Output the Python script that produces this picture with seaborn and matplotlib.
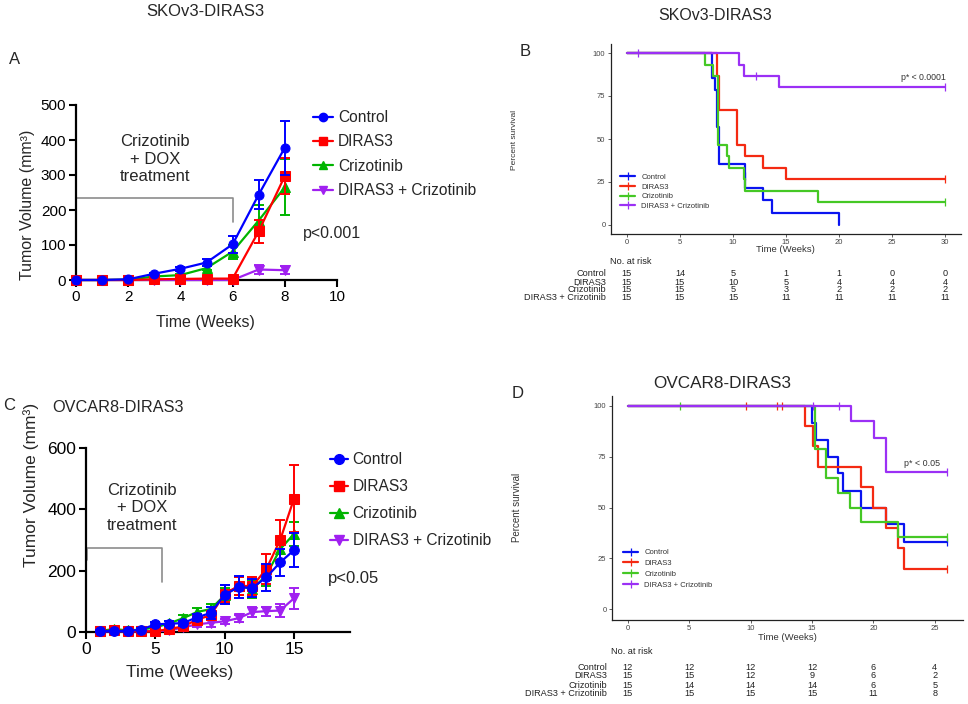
import numpy as np
import pandas as pd
import matplotlib
matplotlib.use("Agg")
import matplotlib.pyplot as plt
import matplotlib.transforms as mtransforms
from matplotlib.lines import Line2D
import seaborn as sns

sns.set_theme(style="white")
plt.rcParams['font.family'] = ['Liberation Sans', 'DejaVu Sans']

# ---- data ----
groups = ["Control", "DIRAS3", "Crizotinib", "DIRAS3 + Crizotinib"]

# panel A: SKOv3 tumor volume (mean, SEM)
weeks_a = [0, 1, 2, 3, 4, 5, 6, 7, 8]
vol_a = {
    "Control":             [0, 0, 2, 18, 32, 50, 102, 244, 378],
    "DIRAS3":              [0, 0, 0, 2, 3, 4, 4, 139, 297],
    "Crizotinib":          [0, 0, 1, 10, 14, 34, 81, 170, 265],
    "DIRAS3 + Crizotinib": [0, 0, 0, 0, 0, 0, 0, 30, 28],
}
sem_a = {
    "Control":             [0, 0, 1, 3, 5, 10, 25, 42, 77],
    "DIRAS3":              [0, 0, 0, 1, 1, 2, 2, 32, 52],
    "Crizotinib":          [0, 0, 1, 2, 3, 6, 20, 45, 80],
    "DIRAS3 + Crizotinib": [0, 0, 0, 0, 0, 0, 0, 14, 12],
}

# panel C: OVCAR8 tumor volume (mean, SEM)
weeks_c = [1, 2, 3, 4, 5, 6, 7, 8, 9, 10, 11, 12, 13, 14, 15]
vol_c = {
    "Control":             [3, 3, 3, 8, 25, 27, 29, 48, 62, 122, 146, 144, 178, 227, 267],
    "DIRAS3":              [2, 5, 3, 2, 2, 10, 18, 40, 55, 125, 150, 150, 205, 300, 435],
    "Crizotinib":          [3, 10, 5, 8, 15, 28, 45, 65, 75, 120, 150, 140, 185, 270, 320],
    "DIRAS3 + Crizotinib": [2, 2, 2, 2, 3, 5, 15, 25, 30, 35, 45, 65, 68, 70, 110],
}
sem_c = {
    "Control":             [2, 3, 3, 5, 8, 8, 8, 12, 20, 30, 35, 30, 45, 45, 55],
    "DIRAS3":              [2, 4, 3, 3, 3, 5, 8, 12, 15, 28, 30, 30, 50, 65, 110],
    "Crizotinib":          [2, 5, 3, 4, 6, 8, 10, 12, 15, 25, 30, 30, 35, 40, 40],
    "DIRAS3 + Crizotinib": [2, 2, 2, 2, 2, 3, 5, 10, 15, 8, 12, 15, 15, 20, 35],
}

# panel B: SKOv3 survival steps (time, percent)
km_b = {
    "Control":             ([0, 8.0, 8.3, 8.5, 8.7, 11.1, 12.8, 13.7, 20.0],
                            [100, 85.7, 78.6, 57.1, 35.7, 21.4, 14.3, 7.1, 0]),
    "DIRAS3":              ([0, 8.5, 8.7, 10.4, 11.1, 12.8, 15.0, 30],
                            [100, 86.7, 66.7, 46.7, 40.0, 33.3, 26.7, 26.7]),
    "Crizotinib":          ([0, 7.4, 8.1, 8.6, 9.4, 9.6, 11.0, 11.1, 18.0, 30],
                            [100, 93.3, 86.7, 46.7, 40.0, 33.3, 26.7, 20.0, 13.3, 13.3]),
    "DIRAS3 + Crizotinib": ([0, 10.6, 11.0, 14.3, 30],
                            [100, 93.3, 86.7, 80.0, 80.0]),
}
cens_b = {
    "Control":             ([11.1], [28.6]),
    "DIRAS3":              ([30], [26.7]),
    "Crizotinib":          ([30], [13.3]),
    "DIRAS3 + Crizotinib": ([1.0, 12.2, 30], [100, 86.7, 80.0]),
}
risk_times_b = [0, 5, 10, 15, 20, 25, 30]
risk_b = {
    "Control":             [15, 14, 5, 1, 1, 0, 0],
    "DIRAS3":              [15, 15, 10, 5, 4, 4, 4],
    "Crizotinib":          [15, 15, 5, 3, 2, 2, 2],
    "DIRAS3 + Crizotinib": [15, 15, 15, 11, 11, 11, 11],
}

# panel D: OVCAR8 survival steps
km_d = {
    "Control":             ([0, 15.0, 15.3, 16.3, 17.1, 17.5, 19.0, 21.0, 22.5, 26],
                            [100, 91.7, 83.3, 75.0, 66.7, 58.3, 50.0, 41.7, 33.3, 33.3]),
    "DIRAS3":              ([0, 14.45, 15.1, 15.5, 19.0, 20.0, 21.0, 22.0, 22.5, 26],
                            [100, 90, 80, 70, 60, 50, 40, 30, 20, 20]),
    "Crizotinib":          ([0, 15.2, 16.1, 17.1, 18.1, 19.0, 22.0, 26],
                            [100, 78.6, 64.3, 57.1, 50.0, 42.9, 35.7, 35.7]),
    "DIRAS3 + Crizotinib": ([0, 18.15, 20.05, 21.0, 26],
                            [100, 92.3, 84.0, 67.3, 67.3]),
}
cens_d = {
    "Control":             ([26], [33.3]),
    "DIRAS3":              ([9.6, 12.15, 12.55, 26], [100, 100, 100, 20]),
    "Crizotinib":          ([4.2, 26], [100, 35.7]),
    "DIRAS3 + Crizotinib": ([15.1, 17.2, 26], [100, 100, 67.3]),
}
risk_times_d = [0, 5, 10, 15, 20, 25]
risk_d = {
    "Control":             [12, 12, 12, 12, 6, 4],
    "DIRAS3":              [15, 15, 12, 9, 6, 2],
    "Crizotinib":          [15, 14, 14, 14, 6, 5],
    "DIRAS3 + Crizotinib": [15, 15, 15, 15, 11, 8],
}

# ---- styles ----
col_g = {"Control": "#0000FF", "DIRAS3": "#FF0000", "Crizotinib": "#00B400",
         "DIRAS3 + Crizotinib": "#A020F0"}
col_k = {"Control": "#0A14F0", "DIRAS3": "#F42A12", "Crizotinib": "#45C825",
         "DIRAS3 + Crizotinib": "#9B30F5"}
mark = {"Control": "o", "DIRAS3": "s", "Crizotinib": "^", "DIRAS3 + Crizotinib": "v"}
zord = {"Control": 6, "DIRAS3": 5, "Crizotinib": 4, "DIRAS3 + Crizotinib": 3}

W, H = 968, 704
fig = plt.figure(figsize=(9.68, 7.04), dpi=100)


def box(l, t, r, b):
    return [l / W, 1 - b / H, (r - l) / W, (b - t) / H]


def fx(x):
    return x / W


def fy(y):
    return 1 - y / H


def growth(ax, weeks, vol, sem, ms, fs):
    for g in groups:
        sns.lineplot(x=weeks, y=vol[g], ax=ax, color=col_g[g], marker=mark[g],
                     markersize=ms, markeredgecolor=col_g[g], lw=1.6,
                     estimator=None, legend=False, clip_on=False, zorder=zord[g])
        ax.errorbar(weeks, vol[g], yerr=sem[g], fmt='none', ecolor=col_g[g],
                    elinewidth=1.4, capsize=3.5, capthick=1.4, clip_on=False,
                    zorder=zord[g])
    sns.despine(ax=ax)
    for s in ["left", "bottom"]:
        ax.spines[s].set_linewidth(1.6)
        ax.spines[s].set_color("black")
    ax.tick_params(bottom=True, left=True, direction='out', length=5, width=1.5,
                   labelsize=fs, colors='black', pad=2)


def km(ax, curves, cens, xlim, xticks):
    for g in groups:
        t, s = curves[g]
        sns.lineplot(x=t, y=s, ax=ax, color=col_k[g], drawstyle='steps-post',
                     lw=1.6, estimator=None, legend=False)
        ct, cs = cens[g]
        ax.plot(ct, cs, ls='none', marker='|', ms=6, mew=0.9, color=col_k[g])
    ax.set_xlim(*xlim)
    ax.set_ylim(-5, 105)
    ax.set_xticks(xticks)
    ax.set_yticks([0, 25, 50, 75, 100])
    ax.set_xlabel("")
    ax.set_ylabel("")
    sns.despine(ax=ax)
    for s in ["left", "bottom"]:
        ax.spines[s].set_linewidth(0.9)
        ax.spines[s].set_color("#222222")
    ax.tick_params(bottom=True, left=True, direction='out', length=2.5, width=0.6,
                   labelsize=5.5, colors='#444444', pad=1.5)


def km_legend(ax, x, y, ls):
    hs = [Line2D([0], [0], color=col_k[g], lw=1.6, marker='|', ms=6, mew=0.9)
          for g in groups]
    ax.legend(hs, groups, loc='upper left', bbox_to_anchor=(fx(x), fy(y)),
              bbox_transform=fig.transFigure, frameon=False, fontsize=5.5,
              handlelength=2.0, handletextpad=0.8, labelspacing=ls,
              borderpad=0, borderaxespad=0, labelcolor='#333333')


def risk_table(ax, times, risk, x_lab, y_head, ys, fs):
    tr = mtransforms.blended_transform_factory(ax.transData, fig.transFigure)
    fig.text(fx(x_lab + 4), fy(y_head), "No. at risk", fontsize=fs, ha='left',
             va='center', color='#222222')
    for g, y in zip(groups, ys):
        fig.text(fx(x_lab), fy(y), g, fontsize=fs, ha='right', va='center',
                 color='#222222')
        for t, n in zip(times, risk[g]):
            ax.text(t, fy(y), str(n), transform=tr, fontsize=fs, ha='center',
                    va='center', color='#222222', clip_on=False)


def growth_legend(ax, x, y, ms, ls, hl):
    hs = [Line2D([0], [0], color=col_g[g], marker=mark[g], ms=ms, lw=1.6)
          for g in groups]
    ax.legend(hs, groups, loc='upper left', bbox_to_anchor=(fx(x), fy(y)),
              bbox_transform=fig.transFigure, frameon=False, fontsize=11.2,
              handlelength=hl, handletextpad=0.3, labelspacing=ls,
              borderpad=0, borderaxespad=0)


# ---- panel A ----
axA = fig.add_axes(box(76, 105, 337, 280))
growth(axA, weeks_a, vol_a, sem_a, ms=6.5, fs=11)
axA.set_xlim(0, 10)
axA.set_ylim(0, 500)
axA.set_xticks([0, 2, 4, 6, 8, 10])
axA.set_yticks([0, 100, 200, 300, 400, 500])
axA.plot([0, 0, 6, 6], [166, 234, 234, 166], color='#8C8C8C', lw=1.2, zorder=1)
axA.set_xlabel("")
axA.set_ylabel("")
fig.text(fx(155), fy(159), "Crizotinib\n+ DOX\ntreatment", fontsize=12, ha='center',
         va='center', linespacing=1.2)
fig.text(fx(205), fy(322), "Time (Weeks)", fontsize=11.5, ha='center', va='center')
fig.text(fx(28), fy(205), "Tumor Volume (mm³)", fontsize=11.5, ha='center',
         va='center', rotation=90)
fig.text(fx(303), fy(233), "p<0.001", fontsize=11.5, ha='left', va='center')
fig.text(fx(205), fy(12), "SKOv3-DIRAS3", fontsize=12, ha='center', va='center')
fig.text(fx(15), fy(60), "A", fontsize=12, ha='center', va='center')
growth_legend(axA, 313, 110, 6, 0.6, 1.3)

# ---- panel C ----
axC = fig.add_axes(box(86, 448, 349.5, 632))
growth(axC, weeks_c, vol_c, sem_c, ms=7, fs=12.5)
axC.set_xlim(0, 19)
axC.set_ylim(0, 600)
axC.set_xticks([0, 5, 10, 15])
axC.set_yticks([0, 200, 400, 600])
axC.plot([0.1, 0.1, 5.5, 5.5], [235, 274, 274, 163], color='#8C8C8C', lw=1.2, zorder=1)
axC.set_xlabel("")
axC.set_ylabel("")
fig.text(fx(142), fy(508), "Crizotinib\n+ DOX\ntreatment", fontsize=12, ha='center',
         va='center', linespacing=1.2)
fig.text(fx(180), fy(672), "Time (Weeks)", fontsize=12.5, ha='center', va='center')
fig.text(fx(31), fy(485), "Tumor Volume (mm³)", fontsize=12.5, ha='center',
         va='center', rotation=90)
fig.text(fx(328), fy(578), "p<0.05", fontsize=12, ha='left', va='center')
fig.text(fx(118), fy(408), "OVCAR8-DIRAS3", fontsize=11.7, ha='center', va='center')
fig.text(fx(9), fy(406), "C", fontsize=12, ha='center', va='center')
growth_legend(axC, 330, 452, 7, 0.78, 1.15)

# ---- panel B ----
axB = fig.add_axes(box(611, 44.4, 961, 233.6))
km(axB, km_b, cens_b, (-1.5, 31.5), [0, 5, 10, 15, 20, 25, 30])
km_legend(axB, 620, 173.5, 0.31)
fig.text(fx(946), fy(78), "p* < 0.0001", fontsize=6.3, ha='right', va='center',
         color='#333333')
fig.text(fx(785), fy(250), "Time (Weeks)", fontsize=6.8, ha='center', va='center',
         color='#333333')
fig.text(fx(515), fy(140), "Percent survival", fontsize=6, ha='center',
         va='center', rotation=90, color='#333333')
fig.text(fx(715), fy(15), "SKOv3-DIRAS3", fontsize=11.5, ha='center', va='center')
fig.text(fx(525), fy(52), "B", fontsize=12, ha='center', va='center')
risk_table(axB, risk_times_b, risk_b, 606, 262, [274, 282, 290, 298], 6.6)

# ---- panel D ----
axD = fig.add_axes(box(612, 395.5, 963, 619.5))
km(axD, km_d, cens_d, (-1.3, 27.3), [0, 5, 10, 15, 20, 25])
km_legend(axD, 623, 549, 0.45)
fig.text(fx(940), fy(463), "p* < 0.05", fontsize=6.4, ha='right', va='center',
         color='#333333')
fig.text(fx(787), fy(637), "Time (Weeks)", fontsize=6.8, ha='center', va='center',
         color='#333333')
fig.text(fx(517), fy(507), "Percent survival", fontsize=7, ha='center',
         va='center', rotation=90, color='#333333')
fig.text(fx(722), fy(384), "OVCAR8-DIRAS3", fontsize=12.3, ha='center', va='center')
fig.text(fx(518), fy(393), "D", fontsize=12, ha='center', va='center')
risk_table(axD, risk_times_d, risk_d, 607, 651, [668, 676, 685, 694], 6.6)

fig.savefig("out.png", dpi=100, facecolor="white")
